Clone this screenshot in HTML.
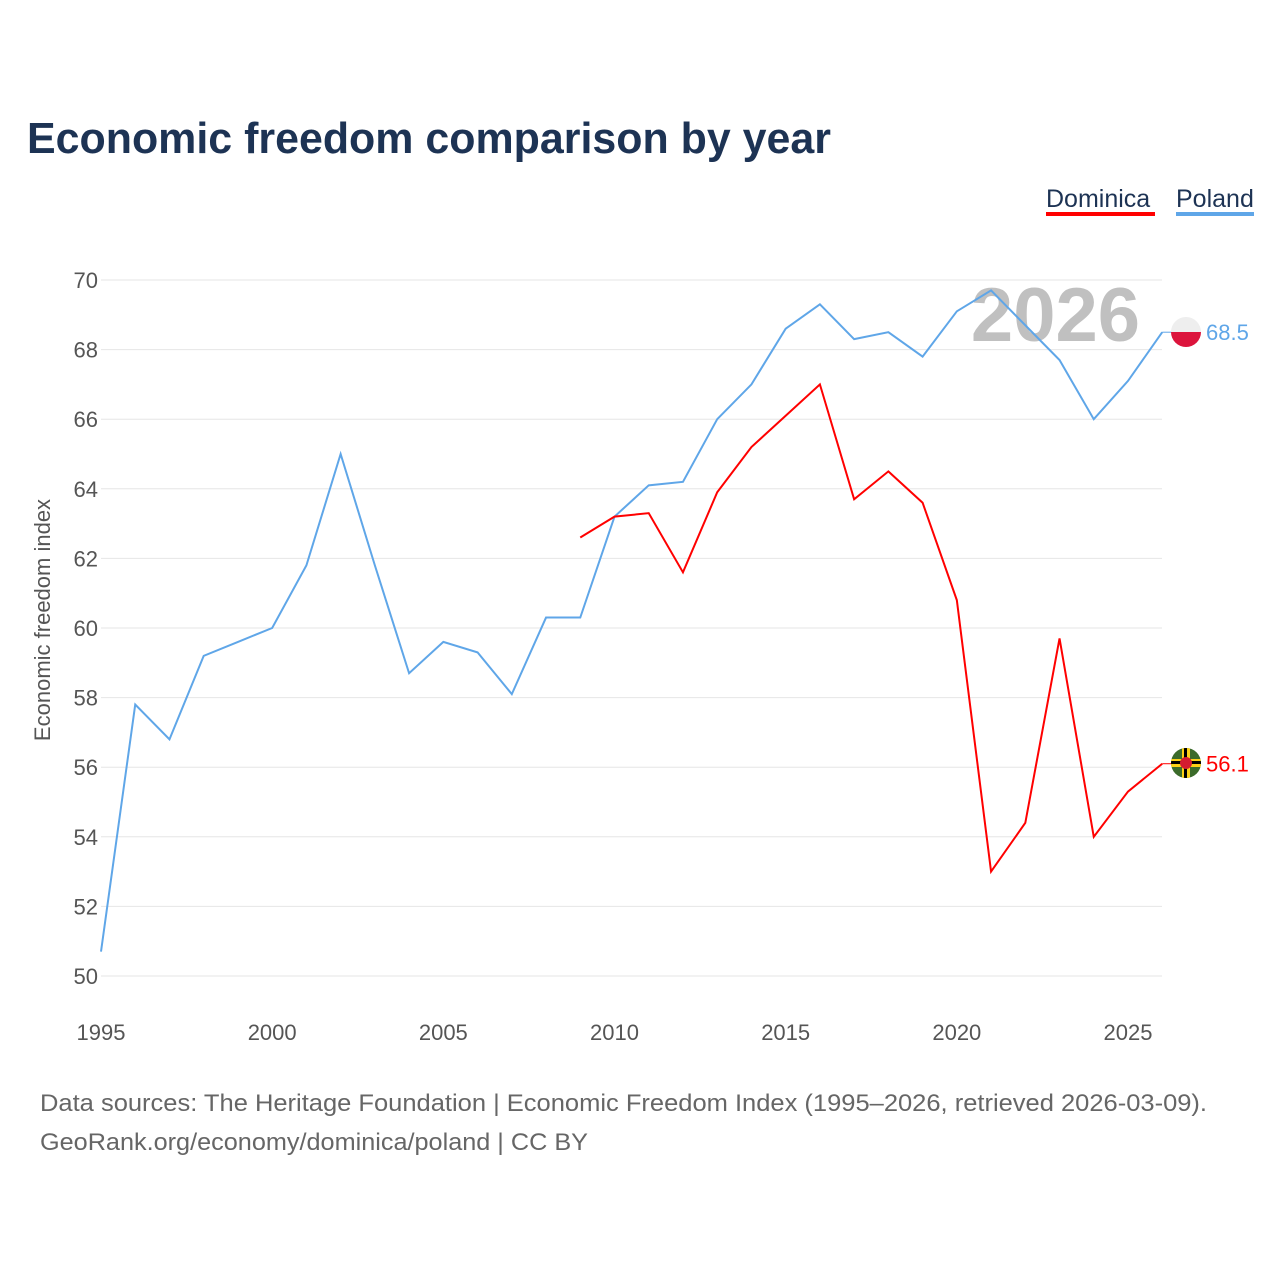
<!DOCTYPE html>
<html><head><meta charset="utf-8"><style>
body{margin:0;background:#fff;font-family:"Liberation Sans",sans-serif;}
#wrap{position:relative;width:1280px;height:1280px;}
</style></head><body>
<div id="wrap">
<svg id="chart" width="1280" height="1280">
<text x="27" y="153" font-size="44" font-weight="bold" fill="#1d3354" textLength="804" lengthAdjust="spacingAndGlyphs">Economic freedom comparison by year</text>
<g>
<text x="1046" y="207" font-size="25" fill="#1d3354">Dominica</text>
<rect x="1046" y="212" width="109" height="4" fill="#ff0000"/>
<text x="1176" y="207" font-size="25" fill="#1d3354">Poland</text>
<rect x="1176" y="212" width="78" height="4" fill="#5fa6e8"/>
</g>
<text x="1140" y="341" font-size="76" font-weight="bold" fill="#c0c0c0" text-anchor="end">2026</text>
<g id="grid"></g>
<g id="xaxis"></g>
<text transform="translate(50,620) rotate(-90)" font-size="22" fill="#555" text-anchor="middle">Economic freedom index</text>
<g id="series"></g>
<g>
<clipPath id="cp"><circle cx="1186" cy="332" r="15"/></clipPath>
<rect x="1171" y="317" width="30" height="15" fill="#eee" clip-path="url(#cp)"/>
<rect x="1171" y="332" width="30" height="15" fill="#dc143c" clip-path="url(#cp)"/>
</g>
<g>
<clipPath id="cd"><circle cx="1186" cy="763" r="15"/></clipPath>
<g clip-path="url(#cd)">
<rect x="1171" y="748" width="30" height="30" fill="#3b6b2a"/>
<rect x="1182" y="748" width="8" height="30" fill="#fcd116"/><rect x="1184" y="748" width="3" height="30" fill="#000"/>
<rect x="1171" y="759" width="30" height="8" fill="#fcd116"/><rect x="1171" y="761" width="30" height="3" fill="#000"/>
<circle cx="1186" cy="763" r="6" fill="#d41c30"/>
</g></g>
<text x="40" y="1111" font-size="24" fill="#666" textLength="1167" lengthAdjust="spacingAndGlyphs">Data sources: The Heritage Foundation | Economic Freedom Index (1995–2026, retrieved 2026-03-09).</text>
<text x="40" y="1150" font-size="24" fill="#666" textLength="548" lengthAdjust="spacingAndGlyphs">GeoRank.org/economy/dominica/poland | CC BY</text>
</svg></div>
<script>
const years=[1995,1996,1997,1998,1999,2000,2001,2002,2003,2004,2005,2006,2007,2008,2009,2010,2011,2012,2013,2014,2015,2016,2017,2018,2019,2020,2021,2022,2023,2024,2025,2026];
const poland=[50.7,57.8,56.8,59.2,59.6,60.0,61.8,65.0,61.8,58.7,59.6,59.3,58.1,60.3,60.3,63.2,64.1,64.2,66.0,67.0,68.6,69.3,68.3,68.5,67.8,69.1,69.7,68.7,67.7,66.0,67.1,68.5];
const dominica=[null,null,null,null,null,null,null,null,null,null,null,null,null,null,62.6,63.2,63.3,61.6,63.9,65.2,66.1,67.0,63.7,64.5,63.6,60.8,53.0,54.4,59.7,54.0,55.3,56.1];
const yTicks=[50,52,54,56,58,60,62,64,66,68,70];
const xTicks=[1995,2000,2005,2010,2015,2020,2025];
const NS='http://www.w3.org/2000/svg';
const X=y=>101+(y-1995)*(1128-101)/30;
const Y=v=>976-(v-50)*(976-280)/20;
function mk(t,a,p){const e=document.createElementNS(NS,t);for(const k in a)e.setAttribute(k,a[k]);p.appendChild(e);return e;}
const grid=document.getElementById('grid');
yTicks.forEach(v=>{
 const l=mk('line',{x1:101,x2:1162,y1:Y(v),y2:Y(v),stroke:'#e6e6e6','stroke-width':1},grid);
 
 
 const t=mk('text',{x:98,y:Y(v)+8,'font-size':22,fill:'#555','text-anchor':'end'},grid);
 t.textContent=v;
 
 
});
const xa=document.getElementById('xaxis');
xTicks.forEach(y=>{
 const t=mk('text',{x:X(y),y:1040,'font-size':22,fill:'#555','text-anchor':'middle'},xa);
 t.textContent=y;
 
 
});
const s=document.getElementById('series');
function line(vals,col,name){
 let d='';let started=false;
 vals.forEach((v,i)=>{if(v==null)return;d+=(started?'L':'M')+X(years[i])+','+Y(v);started=true;});
 const p=mk('path',{d:d,fill:'none',stroke:col,'stroke-width':2},s);
 
 
 const last=vals[vals.length-1];
 mk('line',{x1:X(2026),x2:1172,y1:Y(last),y2:Y(last),stroke:col,'stroke-width':1},s);
 const t=mk('text',{x:1206,y:Y(last)+8,'font-size':22,fill:col},s);
 t.textContent=last.toFixed(1);
 
 
}
line(poland,'#5fa6e8','poland');
line(dominica,'#ff0000','dominica');
</script>
</body></html>
